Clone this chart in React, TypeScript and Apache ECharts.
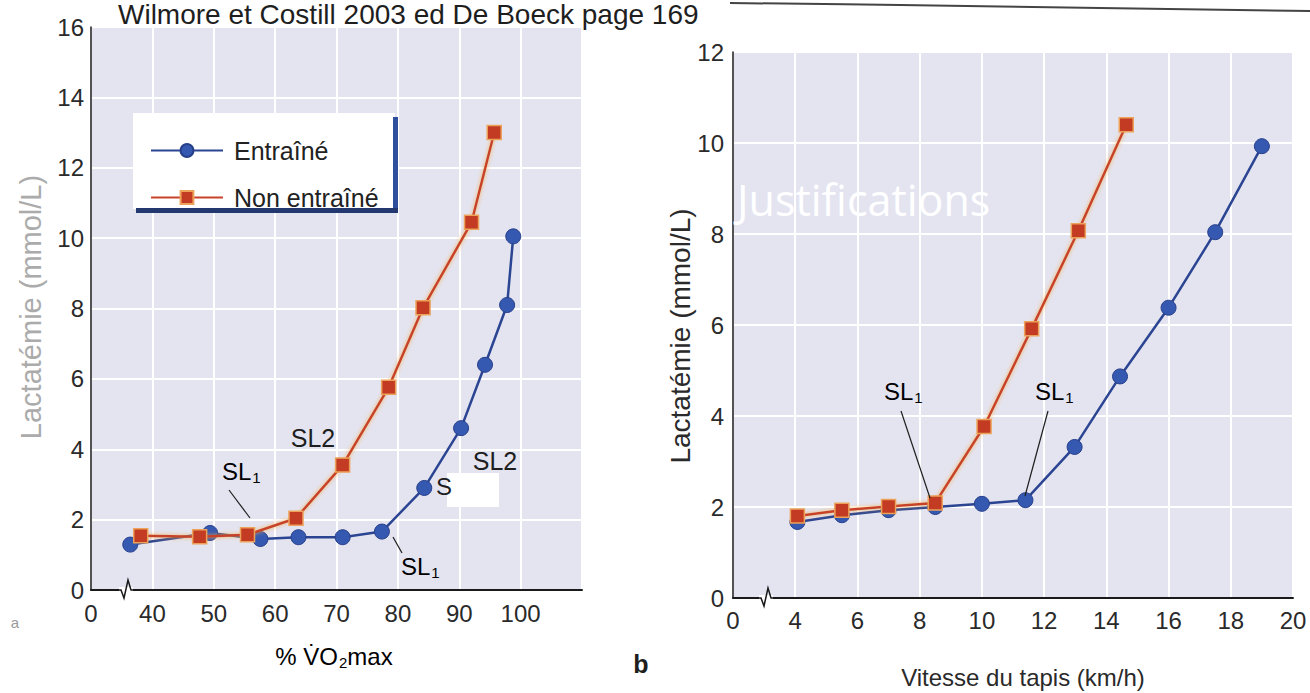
import React, { useEffect, useRef } from "react";
import * as echarts from "echarts";

// Panel a: % VO2max
const aTrainedX = [36.4, 49.4, 57.6, 63.8, 71.0, 77.4, 84.3, 90.3, 94.2, 97.8, 98.8];
const aTrainedY = [1.29, 1.62, 1.45, 1.5, 1.5, 1.66, 2.9, 4.6, 6.4, 8.1, 10.05];
const aUntrainedX = [38.1, 47.7, 55.5, 63.4, 71.0, 78.5, 84.1, 92.0, 95.7];
const aUntrainedY = [1.54, 1.51, 1.57, 2.04, 3.55, 5.76, 8.02, 10.45, 13.0];

// Panel b: treadmill speed (km/h)
const bTrainedX = [4.07, 5.5, 7.0, 8.5, 10.0, 11.4, 12.98, 14.44, 16.0, 17.5, 19.0];
const bTrainedY = [1.67, 1.82, 1.93, 2.0, 2.07, 2.15, 3.32, 4.87, 6.38, 8.04, 9.93];
const bUntrainedX = [4.07, 5.5, 7.0, 8.5, 10.07, 11.6, 13.1, 14.64];
const bUntrainedY = [1.8, 1.93, 2.01, 2.09, 3.77, 5.92, 8.07, 10.4];

const seriesNames = ["Entraîné", "Non entraîné"];
const title = "Wilmore et Costill 2003 ed De Boeck page 169";
const yName = "Lactatémie (mmol/L)";
const xNameB = "Vitesse du tapis (km/h)";

const FONT = "Liberation Sans";
const BLUE = "#2b4592";
const BLUE_FILL = "#3558b0";
const RED = "#c8432a";

const zip = (xs: number[], ys: number[]) => xs.map((x, i) => [x, ys[i]]);

const subRich = (color: string, size = 23) => ({
  a: { fontSize: size, fontFamily: FONT, color },
  s: { fontSize: 15, fontFamily: FONT, color, padding: [13, 0, 0, 1] },
});

function slLabel(x: number, y: number, color = "#1e1e1e") {
  return {
    type: "text",
    x,
    y,
    z: 20,
    style: { text: "{a|SL}{s|1}", rich: subRich(color, 24), textVerticalAlign: "top" },
  };
}

function leader(x1: number, y1: number, x2: number, y2: number) {
  return { type: "line", z: 20, shape: { x1, y1, x2, y2 }, style: { stroke: "#1e1e1e", lineWidth: 1.2 } };
}

export default function App() {
  const ref = useRef<HTMLDivElement>(null);
  useEffect(() => {
    if (!ref.current) return;
    const chart = echarts.init(ref.current, null, { renderer: "svg" });
    const axisLabel = { fontSize: 24, color: "#2a2a2a", fontFamily: FONT };
    const line = (name: string, xi: number, data: number[][]) => {
      const trained = name === seriesNames[0];
      return {
        name,
        type: "line",
        xAxisIndex: xi,
        yAxisIndex: xi,
        data,
        symbol: trained ? "circle" : "rect",
        symbolSize: trained ? 15 : 14,
        z: trained ? 2 : 3,
        lineStyle: trained
          ? { color: BLUE, width: 2.5 }
          : { color: RED, width: 2.5, shadowColor: "rgba(245,170,70,0.9)", shadowBlur: 4 },
        itemStyle: trained
          ? { color: BLUE_FILL, borderColor: "#27408a", borderWidth: 1 }
          : { color: "#c23b22", borderColor: "#eda25a", borderWidth: 1.5 },
      };
    };
    const option = {
      animation: false,
      backgroundColor: "#ffffff",
      textStyle: { fontFamily: FONT },
      grid: [
        { left: 91, top: 27, width: 491, height: 563, show: true, backgroundColor: "#e4e4f1", borderWidth: 0 },
        { left: 733, top: 52, width: 560, height: 546, show: true, backgroundColor: "#e4e4f1", borderWidth: 0 },
      ],
      xAxis: [
        {
          gridIndex: 0, type: "value", min: 30, max: 110, interval: 10,
          axisLine: { show: true, onZero: false, lineStyle: { color: "#1a1a1a", width: 2 } },
          axisTick: { show: false },
          splitLine: { show: true, lineStyle: { color: "#ffffff", width: 2 } },
          axisLabel: { ...axisLabel, margin: 11, formatter: (v: number) => (v === 30 ? "0" : v === 110 ? "" : String(v)) },
        },
        {
          gridIndex: 1, type: "value", min: 2, max: 20, interval: 2,
          axisLine: { show: true, onZero: false, lineStyle: { color: "#1a1a1a", width: 2 } },
          axisTick: { show: false },
          splitLine: { show: true, lineStyle: { color: "#ffffff", width: 2 } },
          axisLabel: { ...axisLabel, margin: 10, formatter: (v: number) => (v === 2 ? "0" : String(v)) },
        },
      ],
      yAxis: [
        {
          gridIndex: 0, type: "value", min: 0, max: 16, interval: 2,
          axisLine: { show: true, lineStyle: { color: "#1a1a1a", width: 1.5 } },
          axisTick: { show: false },
          splitLine: { show: true, lineStyle: { color: "#ffffff", width: 2 } },
          axisLabel: { ...axisLabel, margin: 7 },
        },
        {
          gridIndex: 1, type: "value", min: 0, max: 12, interval: 2,
          axisLine: { show: true, lineStyle: { color: "#1a1a1a", width: 1.5 } },
          axisTick: { show: false },
          splitLine: { show: true, lineStyle: { color: "#ffffff", width: 2 } },
          axisLabel: { ...axisLabel, margin: 9 },
        },
      ],
      legend: {
        data: seriesNames,
        orient: "vertical",
        left: 145,
        top: 133,
        itemWidth: 72,
        itemHeight: 16,
        itemGap: 22,
        z: 6,
        textStyle: { fontSize: 25, color: "#222", fontFamily: FONT, padding: [0, 0, 0, 6] },
      },
      series: [
        line(seriesNames[0], 0, zip(aTrainedX, aTrainedY)),
        line(seriesNames[1], 0, zip(aUntrainedX, aUntrainedY)),
        line(seriesNames[0], 1, zip(bTrainedX, bTrainedY)),
        line(seriesNames[1], 1, zip(bUntrainedX, bUntrainedY)),
      ],
      graphic: [
        // title
        { type: "text", x: 118, y: 0, z: 20, style: { text: title, font: `28px '${FONT}'`, fill: "#1e1e1e", textVerticalAlign: "top" } },
        // scan edge at the top right
        { type: "polyline", z: 20, shape: { points: [[730, 3], [900, 5], [1100, 8], [1310, 11]], smooth: 0.4 }, style: { stroke: "#444", lineWidth: 2, fill: "none" } },
        // legend box
        { type: "rect", z: 3, shape: { x: 133, y: 113, width: 262, height: 96 }, style: { fill: "#ffffff" } },
        { type: "rect", z: 3, shape: { x: 393, y: 117, width: 5, height: 96 }, style: { fill: "#2d4f9e" } },
        { type: "rect", z: 3, shape: { x: 136, y: 208, width: 262, height: 5 }, style: { fill: "#23386e" } },
        // axis names
        { type: "text", x: 31, y: 307, rotation: Math.PI / 2, z: 20, style: { text: yName, font: `29px '${FONT}'`, fill: "#ababab", textAlign: "center", textVerticalAlign: "middle" } },
        { type: "text", x: 680, y: 336, rotation: Math.PI / 2, z: 20, style: { text: yName, font: `28px '${FONT}'`, fill: "#2a2a2a", textAlign: "center", textVerticalAlign: "middle" } },
        {
          type: "text", x: 334, y: 656, z: 20,
          style: {
            text: "{a|% V\u0307O}{s|2}{a|max}",
            rich: subRich("#2a2a2a", 24),
            textAlign: "center",
            textVerticalAlign: "middle",
          },
        },
        { type: "text", x: 1023, y: 677, z: 20, style: { text: xNameB, font: `24px '${FONT}'`, fill: "#2a2a2a", textAlign: "center", textVerticalAlign: "middle" } },
        // panel letters
        { type: "text", x: 15, y: 622, z: 20, style: { text: "a", font: `15px '${FONT}'`, fill: "#9a9a9a", textAlign: "center", textVerticalAlign: "middle" } },
        { type: "text", x: 641, y: 664, z: 20, style: { text: "b", font: `bold 25px '${FONT}'`, fill: "#1e1e1e", textAlign: "center", textVerticalAlign: "middle" } },
        // axis breaks
        { type: "rect", z: 20, shape: { x: 119, y: 587, width: 14, height: 6 }, style: { fill: "#ffffff" } },
        { type: "polyline", z: 21, shape: { points: [[117, 590], [121, 590], [124, 598], [128, 580], [131, 590], [135, 590]] }, style: { stroke: "#1a1a1a", lineWidth: 1.5, fill: "none" } },
        { type: "rect", z: 20, shape: { x: 759, y: 595, width: 14, height: 6 }, style: { fill: "#ffffff" } },
        { type: "polyline", z: 21, shape: { points: [[757, 598], [761, 598], [764, 606], [768, 588], [771, 598], [775, 598]] }, style: { stroke: "#1a1a1a", lineWidth: 1.5, fill: "none" } },
        // annotations panel a
        { type: "text", x: 313, y: 438, z: 20, style: { text: "SL2", font: `25px '${FONT}'`, fill: "#1e1e1e", textAlign: "center", textVerticalAlign: "middle" } },
        { type: "text", x: 495, y: 461, z: 20, style: { text: "SL2", font: `25px '${FONT}'`, fill: "#1e1e1e", textAlign: "center", textVerticalAlign: "middle" } },
        { type: "rect", z: 19, shape: { x: 447, y: 473, width: 52, height: 34 }, style: { fill: "#ffffff" } },
        { type: "text", x: 436, y: 474, z: 20, style: { text: "S", font: `24px '${FONT}'`, fill: "#1e1e1e", textVerticalAlign: "top" } },
        slLabel(222, 457),
        leader(229, 490, 250, 518),
        slLabel(401, 552),
        leader(393, 537, 402, 553),
        // annotations panel b
        slLabel(884, 377),
        leader(901, 411, 930, 498),
        slLabel(1035, 377),
        leader(1048, 411, 1025, 496),
        // overlay text
        { type: "text", x: 737, y: 199, z: 20, style: { text: "Justifications", font: `43px 'Open Sans'`, fill: "#ffffff", textVerticalAlign: "middle" } },
      ],
    };
    chart.setOption(option as any);
    return () => chart.dispose();
  }, []);
  return <div ref={ref} style={{ position: "fixed", left: 0, top: 0, width: 1310, height: 693 }} />;
}
